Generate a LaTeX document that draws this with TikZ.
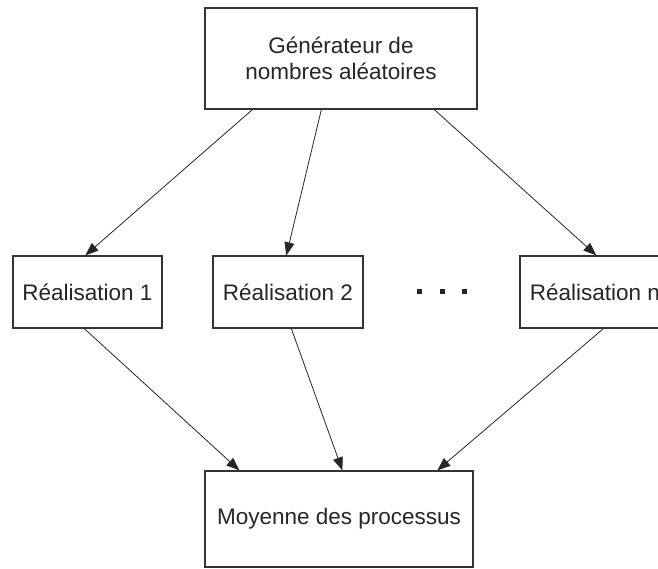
\documentclass[tikz,border=0pt]{standalone}
\usepackage{fontspec}
\setmainfont{Liberation Sans}
\usetikzlibrary{arrows.meta,calc}
\begin{document}
\begin{tikzpicture}[x=1pt,y=-1pt,
  box/.style={draw=black!80,line width=1.3pt,fill=white,inner sep=0pt,align=center,
    font=\fontsize{22.5}{26}\selectfont,text=black!85},
  arr/.style={draw=black!85,line width=0.8pt,-{Triangle[length=13pt,width=10pt]}},
  dotsq/.style={fill=black!85,minimum size=5pt,inner sep=0pt}]
\useasboundingbox (0,0) rectangle (658,568);
\node[box,minimum width=272pt,minimum height=101pt] (top) at (341,58.5) {Générateur de\\nombres aléatoires};
\node[box,minimum width=149pt,minimum height=72pt] (r1) at (87.5,292) {Réalisation 1};
\node[box,minimum width=150pt,minimum height=72pt] (r2) at (288,292) {Réalisation 2};
\node[box,minimum width=150pt,minimum height=72pt] (rn) at (595,292) {Réalisation n};
\node[box,minimum width=268pt,minimum height=96pt] (bot) at (339,519) {Moyenne des processus};
\node[dotsq] (d1) at (419.5,291.5) {};
\node[dotsq] (d2) at (442,291.5) {};
\node[dotsq] (d3) at (464.5,291.5) {};
% connector end points on box edges
\coordinate (t1) at ($(top.south west)+(48,0)$);
\coordinate (t2) at ($(top.south west)+(117,0)$);
\coordinate (t3) at ($(top.south west)+(230,0)$);
\coordinate (r1n) at ($(r1.north west)+(73,0)$);
\coordinate (r2n) at ($(r2.north west)+(74,0)$);
\coordinate (rnn) at ($(rn.north west)+(77,0)$);
\coordinate (r1s) at ($(r1.south west)+(72,0)$);
\coordinate (r2s) at ($(r2.south west)+(79,0)$);
\coordinate (rns) at ($(rn.south west)+(84,0)$);
\coordinate (b1) at ($(bot.north west)+(35,0)$);
\coordinate (b2) at ($(bot.north west)+(138,0)$);
\coordinate (b3) at ($(bot.north west)+(233,0)$);
\draw[arr] (t1) -- (r1n);
\draw[arr] (t2) -- (r2n);
\draw[arr] (t3) -- (rnn);
\draw[arr] (r1s) -- (b1);
\draw[arr] (r2s) -- (b2);
\draw[arr] (rns) -- (b3);
\end{tikzpicture}
\end{document}
